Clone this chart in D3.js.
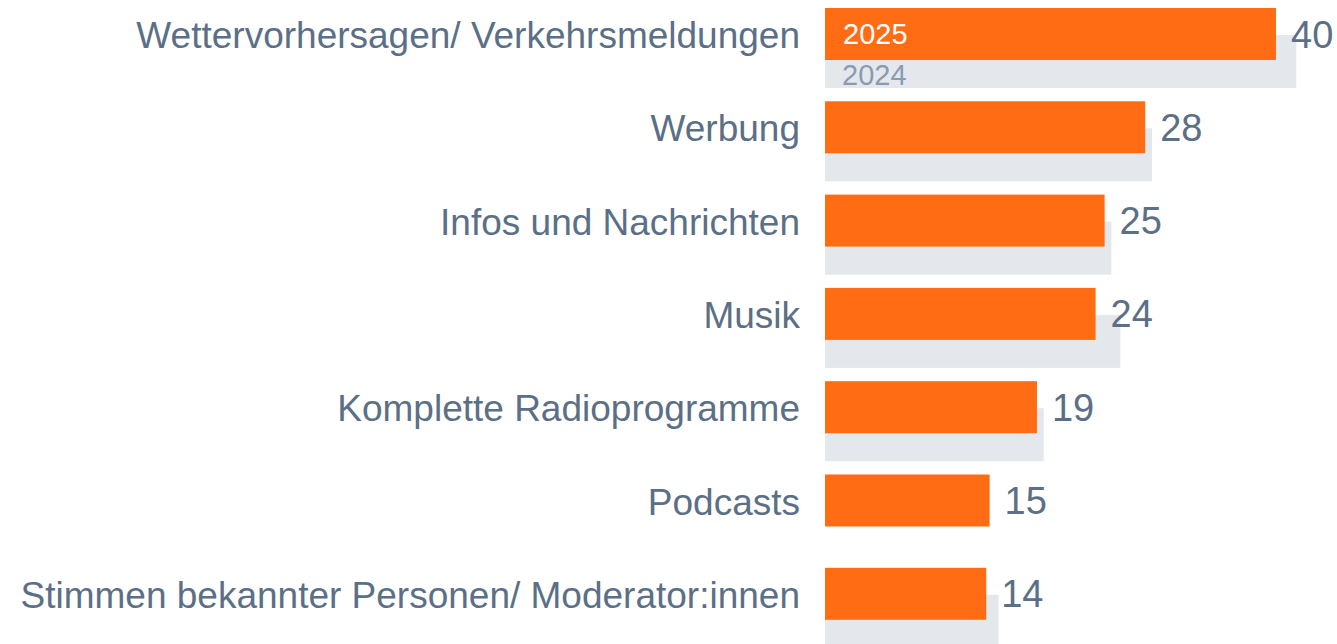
<!DOCTYPE html>
<html>
<head>
<meta charset="utf-8">
<script src="https://cdn.jsdelivr.net/npm/d3@7"></script>
<style>
  html, body { margin: 0; padding: 0; background: #fff; }
  svg text { font-family: "Liberation Sans", Arial, sans-serif; }
</style>
</head>
<body>
<div id="chart"></div>
<script>
// chart data (bar lengths, labels are rounded)
const categories = [
  'Wettervorhersagen/ Verkehrsmeldungen',
  'Werbung',
  'Infos und Nachrichten',
  'Musik',
  'Komplette Radioprogramme',
  'Podcasts',
  'Stimmen bekannter Personen/ Moderator:innen'
];
const values2025 = [40, 28.4, 24.8, 24.0, 18.8, 14.6, 14.3];
const values2024 = [41.8, 29.0, 25.4, 26.2, 19.4, null, 15.4];
const seriesNames = ['2025', '2024'];

const width = 1337, height = 644;
const margin = {top: 8, right: 0, bottom: 0, left: 825};

const svg = d3.select('#chart').append('svg')
  .attr('width', width)
  .attr('height', height);

const x = d3.scaleLinear().domain([0, 40]).range([0, 451]);

const y = d3.scaleBand()
  .domain(categories)
  .range([margin.top, margin.top + 93.3 * categories.length])
  .paddingInner(0)
  .paddingOuter(0);

const barH = 52;
const offset = 27;
const fmt = d3.format('.0f');

const g = svg.append('g');

const rows = categories.map((c, i) => ({cat: c, v25: values2025[i], v24: values2024[i]}));

// 2024 bars (behind)
g.selectAll('.bar24')
  .data(rows.filter(d => d.v24 != null))
  .enter().append('rect')
  .attr('class', 'bar24')
  .attr('x', margin.left)
  .attr('y', d => y(d.cat) + offset)
  .attr('width', d => x(d.v24))
  .attr('height', barH + 1)
  .attr('fill', '#e4e8ed');

// 2025 bars
g.selectAll('.bar25')
  .data(rows)
  .enter().append('rect')
  .attr('class', 'bar25')
  .attr('x', margin.left)
  .attr('y', d => y(d.cat))
  .attr('width', d => x(d.v25))
  .attr('height', barH)
  .attr('fill', '#ff6c13');

// category labels
g.selectAll('.cat')
  .data(rows)
  .enter().append('text')
  .attr('class', 'cat')
  .attr('x', 800)
  .attr('y', d => y(d.cat) + barH / 2 + 14)
  .attr('text-anchor', 'end')
  .attr('font-size', 37)
  .attr('fill', '#5b6f86')
  .text(d => d.cat);

// value labels
g.selectAll('.val')
  .data(rows)
  .enter().append('text')
  .attr('class', 'val')
  .attr('x', d => margin.left + x(d.v25) + 15)
  .attr('y', d => y(d.cat) + barH / 2 + 13.5)
  .attr('font-size', 38)
  .attr('fill', '#5b6f86')
  .text(d => fmt(d.v25));

// series names in the first row
const first = rows[0];
g.append('text')
  .attr('x', margin.left + 18)
  .attr('y', y(first.cat) + 36)
  .attr('font-size', 29)
  .attr('fill', '#ffffff')
  .text(seriesNames[0]);

g.append('text')
  .attr('x', margin.left + 17)
  .attr('y', y(first.cat) + offset + 50)
  .attr('font-size', 29)
  .attr('fill', '#8a9bb0')
  .text(seriesNames[1]);
</script>
</body>
</html>
